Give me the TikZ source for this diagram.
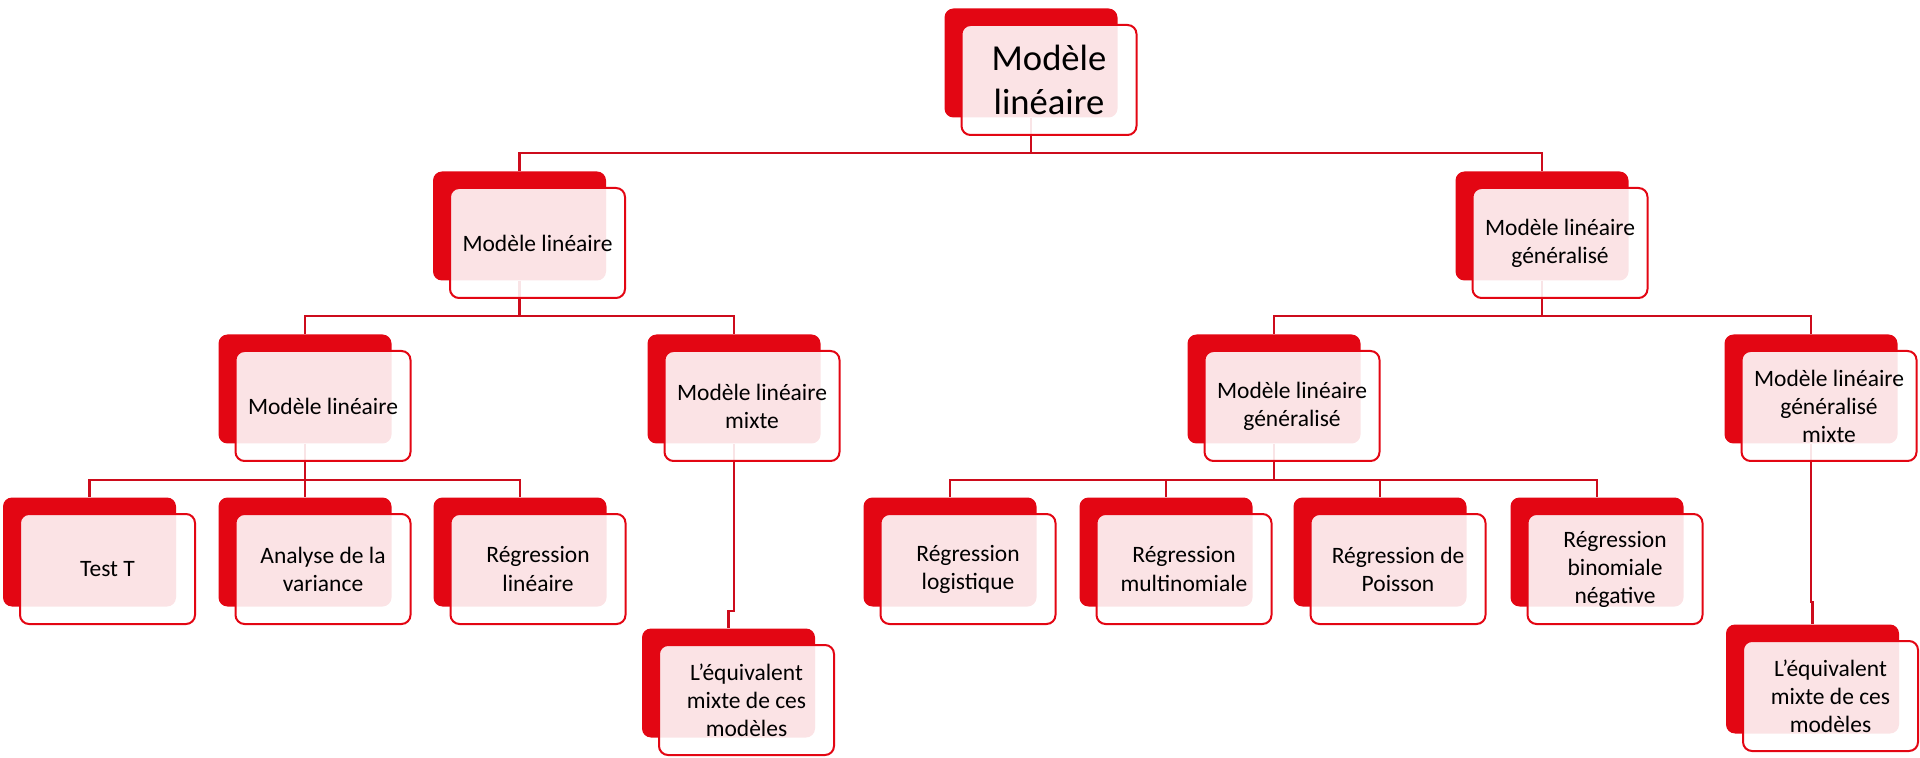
\documentclass[tikz,border=0pt]{standalone}
\usepackage{fontspec}
\setmainfont{Carlito}
\definecolor{boxred}{RGB}{227,6,19}
\definecolor{linered}{RGB}{205,12,28}
\tikzset{
  backbox/.style={rectangle, rounded corners=4.5pt, fill=boxred, draw=none,
    minimum width=86.5pt, minimum height=54.5pt, inner sep=0pt},
  frontbox/.style={rectangle, rounded corners=4.5pt, draw=boxred, line width=1pt,
    fill=white, fill opacity=0.89, text opacity=1, text=black,
    minimum width=87.5pt, minimum height=55pt, inner sep=0pt, align=center,
    font=\fontsize{11.75}{14}\selectfont},
  bigtext/.style={font=\fontsize{18.3}{22.3}\selectfont},
  conn/.style={draw=linered, line width=1.25pt}
}
\newcommand{\bk}[3]{\node[backbox] (#1) at (#2,#3) {};}
\newcommand{\fr}[3][]{\node[frontbox,#1] (#2f) at ([shift={(18,17)}]#2.center) {#3};}
\begin{document}
\begin{tikzpicture}[x=0.5pt,y=-0.5pt]
\useasboundingbox (0,0) rectangle (1920,758);
% back boxes
\bk{top}{1031}{63}
\bk{la}{519.5}{226}
\bk{lb}{1542}{226}
\bk{ma}{305}{389}
\bk{mb}{734}{389}
\bk{mc}{1274}{389}
\bk{md}{1811}{389}
\bk{ta}{89.5}{552}
\bk{tb}{305}{552}
\bk{tc}{520}{552}
\bk{td}{950}{552}
\bk{te}{1166}{552}
\bk{tf}{1380}{552}
\bk{tg}{1597}{552}
\bk{xa}{728.5}{683}
\bk{xb}{1812.5}{679}
% connectors
\draw[conn] (top.south) -- (top.south |- 0,153) -| (la.north);
\draw[conn] (top.south) -- (top.south |- 0,153) -| (lb.north);
\draw[conn] (la.south) -- (la.south |- 0,316) -| (ma.north);
\draw[conn] (la.south) -- (la.south |- 0,316) -| (mb.north);
\draw[conn] (lb.south) -- (lb.south |- 0,316) -| (mc.north);
\draw[conn] (lb.south) -- (lb.south |- 0,316) -| (md.north);
\draw[conn] (ma.south) -- (ma.south |- 0,480) -| (ta.north);
\draw[conn] (ma.south) -- (ma.south |- 0,480) -| (tb.north);
\draw[conn] (ma.south) -- (ma.south |- 0,480) -| (tc.north);
\draw[conn] (mc.south) -- (mc.south |- 0,480) -| (td.north);
\draw[conn] (mc.south) -- (mc.south |- 0,480) -| (te.north);
\draw[conn] (mc.south) -- (mc.south |- 0,480) -| (tf.north);
\draw[conn] (mc.south) -- (mc.south |- 0,480) -| (tg.north);
\draw[conn] (mb.south) -- (mb.south |- 0,611) -| (xa.north);
\draw[conn] (md.south) -- (md.south |- 0,602) -| (xb.north);
% front boxes
\fr[bigtext]{top}{Modèle\\linéaire}
\fr{la}{Modèle linéaire}
\fr{lb}{Modèle linéaire\\généralisé}
\fr{ma}{Modèle linéaire}
\fr{mb}{Modèle linéaire\\mixte}
\fr{mc}{Modèle linéaire\\généralisé}
\fr{md}{Modèle linéaire\\généralisé\\mixte}
\fr{ta}{Test T}
\fr{tb}{Analyse de la\\variance}
\fr{tc}{Régression\\linéaire}
\fr{td}{Régression\\logistique}
\fr{te}{Régression\\multinomiale}
\fr{tf}{Régression de\\Poisson}
\fr{tg}{Régression\\binomiale\\négative}
\fr{xa}{L’équivalent\\mixte de ces\\modèles}
\fr{xb}{L’équivalent\\mixte de ces\\modèles}
\end{tikzpicture}
\end{document}
